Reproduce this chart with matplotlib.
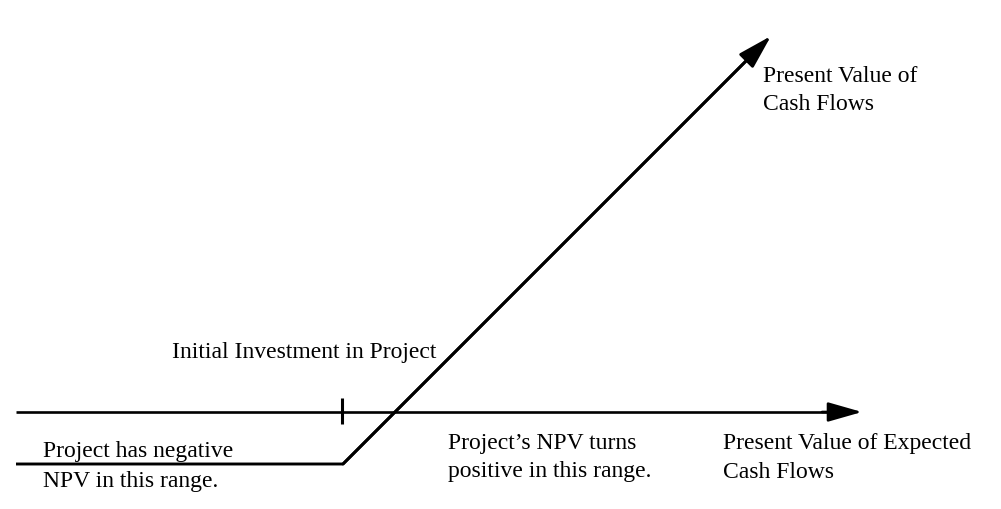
import numpy as np
import matplotlib
matplotlib.use('Agg')
import matplotlib.pyplot as plt

plt.rcParams['font.family'] = ['Liberation Serif', 'DejaVu Serif']

# diagram values (units: present value, axis starts at 0)
axis_x = [0, 846]
axis_y = [0, 0]
investment = 326
tick_y = [-12, 14]
payoff_x = [0, 327, 755]
payoff_y = [-52, -52, 376]

labels = [
    ('Present Value of', 747, 330),
    ('Cash Flows', 747, 302),
    ('Initial Investment in Project', 156, 54),
    ('Project has negative', 27, -45),
    ('NPV in this range.', 27, -75),
    ('Project\u2019s NPV turns', 432, -37),
    ('positive in this range.', 432, -65),
    ('Present Value of Expected', 707, -37),
    ('Cash Flows', 707, -66),
]

fig = plt.figure(figsize=(10.01, 5.09), dpi=100)
ax = fig.add_axes([0, 0, 1, 1])
ax.set_xlim(-16, 985)
ax.set_ylim(-97, 412)
ax.axis('off')

arrow_kw = dict(arrowstyle='-|>,head_length=21,head_width=6', mutation_scale=1,
                color='black', shrinkA=0, shrinkB=0)

# horizontal axis
ax.plot(axis_x[:1] + [axis_x[1] - 20], axis_y, color='black', lw=1.9, solid_capstyle='butt')
ax.annotate('', xy=(axis_x[1], axis_y[1]), xytext=(axis_x[1] - 40, axis_y[1]),
            arrowprops=dict(lw=1.9, **arrow_kw))

# tick at initial investment
ax.plot([investment, investment], tick_y, color='black', lw=2.2, solid_capstyle='butt')

# payoff line
ax.plot(payoff_x[:2] + [payoff_x[2] - 15], payoff_y[:2] + [payoff_y[2] - 15],
        color='black', lw=2.1, solid_capstyle='butt')
ax.annotate('', xy=(payoff_x[2], payoff_y[2]), xytext=(payoff_x[1], payoff_y[1]),
            arrowprops=dict(lw=2.1, **arrow_kw))

for txt, x, y in labels:
    ax.text(x, y, txt, fontsize=17, ha='left', va='baseline')

fig.savefig('out.png', dpi=100)
